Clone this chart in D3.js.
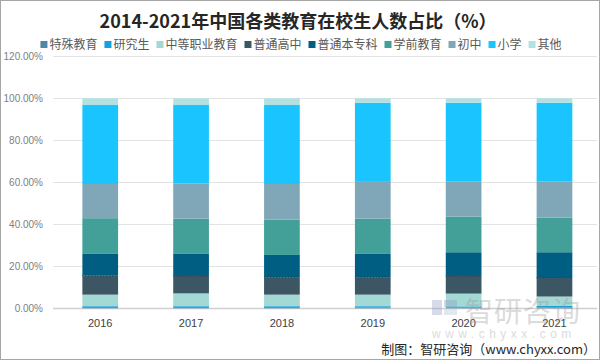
<!DOCTYPE html>
<html><head><meta charset="utf-8">
<script src="https://cdn.jsdelivr.net/npm/d3@7"></script>
<style>html,body{margin:0;padding:0;background:#fff;}svg{display:block;}</style>
</head><body>
<svg id="c" width="600" height="360"></svg>
<script>
const years = ["2016","2017","2018","2019","2020","2021"];
const seriesNames = ["特殊教育","研究生","中等职业教育","普通高中","普通本专科","学前教育","初中","小学","其他"];
const special   = [0.2, 0.2, 0.2, 0.3, 0.3, 0.3];
const graduate  = [0.8, 0.8, 0.8, 0.7, 0.6, 0.8];
const vocational= [5.5, 6.1, 5.5, 5.5, 6.1, 4.5];
const highSchool= [9.1, 8.3, 8.3, 8.3, 8.4, 8.8];
const college   = [10.3, 10.5, 10.6, 11.1, 11.3, 12.3];
const preschool = [17.0, 16.8, 16.8, 16.8, 17.0, 16.5];
const juniorHigh= [16.3, 16.8, 17.0, 17.5, 16.8, 17.3];
const primary   = [37.6, 37.3, 37.6, 37.7, 37.4, 37.4];
const others    = [3.2, 3.2, 3.2, 2.1, 2.1, 2.1];
const yTicks = [0, 20, 40, 60, 80, 100, 120];
const colors = ["#4D86A8","#14A2DF","#A2D9D5","#3C5663","#005E82","#42A098","#7FA7B8","#19C4FF","#B3E1E1"];

const seriesValues = [special, graduate, vocational, highSchool, college, preschool, juniorHigh, primary, others];
const table = years.map((y, i) => {
  const row = {year: y};
  seriesNames.forEach((n, k) => row[n] = seriesValues[k][i]);
  return row;
});

const svg = d3.select("#c");
const font = "'Noto Sans CJK SC','Noto Sans',sans-serif";

// border
svg.append("rect").attr("x",0.5).attr("y",0.5).attr("width",599).attr("height",359)
  .attr("fill","#fff").attr("stroke","#a6a6a6");

const x = d3.scaleBand().domain(years).range([54.8, 599.9]).paddingInner(0.607).paddingOuter(0.3035);
const y = d3.scaleLinear().domain([0, 120]).range([308.3, 56.3]);

// gridlines
svg.append("g").selectAll("line").data(yTicks).join("line")
  .attr("x1", 53).attr("x2", 597)
  .attr("y1", d => Math.round(y(d)) + 0.5).attr("y2", d => Math.round(y(d)) + 0.5)
  .attr("stroke", d => d === 0 ? "#d0d0d0" : "#e3e3e3").attr("stroke-width", d => d === 0 ? 1.5 : 1);

// y axis labels
svg.append("g").selectAll("text").data(yTicks).join("text")
  .attr("x", 43).attr("y", d => y(d) + 3.5).attr("text-anchor","end")
  .attr("font-family","'Liberation Sans',Arial,sans-serif").attr("font-size",10).attr("fill","#808080")
  .text(d => d.toFixed(2) + "%");

// stacked bars
const stack = d3.stack().keys(seriesNames);
const layers = stack(table);
svg.append("g").selectAll("g").data(layers).join("g")
  .attr("fill", (d, i) => colors[i])
  .selectAll("rect").data(d => d).join("rect")
  .attr("x", d => x(d.data.year)).attr("width", x.bandwidth())
  .attr("y", d => y(d[1])).attr("height", d => y(d[0]) - y(d[1]));

// dotted edge on top of 普通高中
const hsLayer = layers[3];
svg.append("g").selectAll("line").data(hsLayer).join("line")
  .attr("x1", d => x(d.data.year)).attr("x2", d => x(d.data.year) + x.bandwidth())
  .attr("y1", d => y(d[1])).attr("y2", d => y(d[1]))
  .attr("stroke","#2a3a44").attr("stroke-width",1).attr("stroke-dasharray","1,2");

// x labels
svg.append("g").selectAll("text").data(years).join("text")
  .attr("x", d => x(d) + x.bandwidth()/2).attr("y", 327).attr("text-anchor","middle")
  .attr("font-family","'Liberation Sans',Arial,sans-serif").attr("font-size",11).attr("fill","#404040")
  .text(d => d);

// title
svg.append("text").attr("x", 298).attr("y", 28).attr("text-anchor","middle")
  .attr("font-family", font).attr("font-weight","bold").attr("font-size",18).attr("fill","#262626")
  .text("2014-2021年中国各类教育在校生人数占比（%）");

// legend
const lg = svg.append("g");
let lx = 0;
const items = [];
seriesNames.forEach((n, i) => {
  const g = lg.append("g");
  g.append("rect").attr("x", lx).attr("y", -4).attr("width",7).attr("height",7).attr("fill", colors[i]);
  const t = g.append("text").attr("x", lx + 9).attr("y", 4).attr("font-family", font)
    .attr("font-size", 12).attr("fill","#595959").text(n);
  lx += 9 + t.node().getComputedTextLength() + 7;
});
const lw = lx - 7;
lg.attr("transform", `translate(${(600 - lw)/2 + 1},45)`);

// watermark
const wm = svg.append("g").attr("opacity", 0.35);
wm.append("rect").attr("x",432).attr("y",300).attr("width",10).attr("height",15).attr("fill","#8a9bc0");
wm.append("rect").attr("x",444).attr("y",300).attr("width",13).attr("height",7).attr("fill","#8a9bc0");
wm.append("rect").attr("x",444).attr("y",309).attr("width",13).attr("height",6).attr("fill","#b0bcd6");
wm.append("text").attr("x",465).attr("y",322).attr("font-family",font).attr("font-size",28)
  .attr("fill","#9a9a9a").attr("letter-spacing",1).text("智研咨询");
wm.append("text").attr("x",432).attr("y",338).attr("font-family","'Liberation Sans',Arial,sans-serif").attr("font-size",12)
  .attr("fill","#9a9a9a").attr("letter-spacing",4.5).text("www.chyxx.com");

// source
svg.append("text").attr("x", 596).attr("y", 354).attr("text-anchor","end")
  .attr("font-family", font).attr("font-size",13).attr("fill","#262626")
  .text("制图：智研咨询（www.chyxx.com）");
</script>
</body></html>
